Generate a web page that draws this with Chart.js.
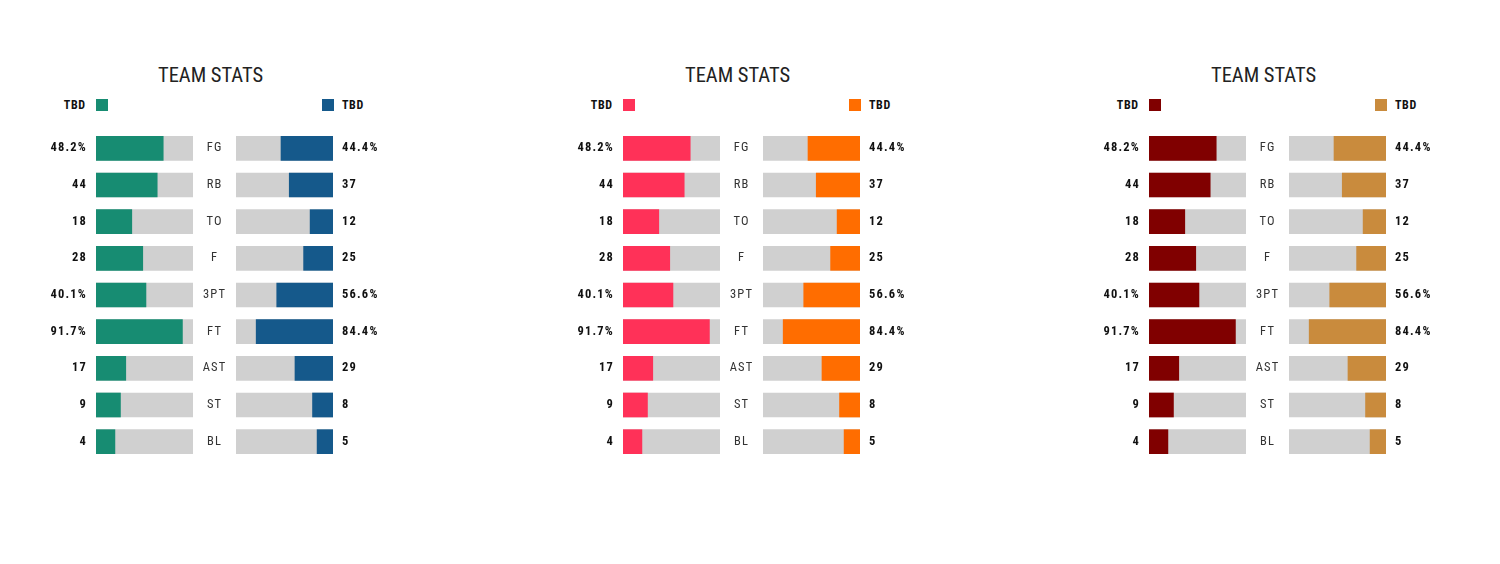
<!DOCTYPE html>
<html>
<head>
<meta charset="utf-8">
<title>Team stats</title>
<script src="https://cdn.jsdelivr.net/npm/chart.js@4.4.1/dist/chart.umd.min.js"></script>
<style>
  body { margin: 0; background: #fff; width: 1500px; height: 564px; position: relative; overflow: hidden; font-family: Roboto, sans-serif; }
  .panel { position: absolute; top: 0; width: 500px; height: 564px; }
  .title { position: absolute; top: 65px; left: 110.5px; width: 200px; text-align: center; font-size: 20.5px; line-height: 20px; color: #222; font-stretch: condensed; }
  .tbd { position: absolute; top: 99px; font-size: 12px; line-height: 12px; font-weight: bold; color: #111; letter-spacing: 0.6px; font-stretch: condensed; }
  .tbd.home { left: 25px; width: 60.6px; text-align: right; }
  .tbd.away { left: 342px; }
  .swatch { position: absolute; top: 99px; width: 12px; height: 12px; }
  .side { position: absolute; top: 130px; height: 330px; }
</style>
</head>
<body>
<script>
// categories and values
const categories = ['FG', 'RB', 'TO', 'F', '3PT', 'FT', 'AST', 'ST', 'BL'];
const homeText = ['48.2%', '44', '18', '28', '40.1%', '91.7%', '17', '9', '4'];
const awayText = ['44.4%', '37', '12', '25', '56.6%', '84.4%', '29', '8', '5'];
// filled share of each bar (0-100)
const homeFill = [69.3, 63.1, 36.9, 48.2, 51.5, 89.1, 30.7, 25.2, 19.5];
const awayFill = [53.6, 45.1, 23.6, 30.3, 58.0, 79.2, 39.2, 21.1, 16.4];
const track = [100, 100, 100, 100, 100, 100, 100, 100, 100];

const teamNames = ['TBD', 'TBD'];
const panelTitle = 'TEAM STATS';
const panelLeft = [0, 527, 1053];
const homeColors = ['#178c72', '#ff3158', '#800000'];
const awayColors = ['#15598b', '#ff6d00', '#c98b3d'];
const trackColor = '#d0d0d0';

const spacing = {
  id: 'spacing',
  beforeDraw(chart) { chart.ctx.letterSpacing = '1.2px'; }
};

function makeSide(parent, left, fill, text, color, isHome) {
  const width = isHome ? 196 : 150;
  const box = document.createElement('div');
  box.className = 'side';
  box.style.left = left + 'px';
  box.style.width = width + 'px';
  const canvas = document.createElement('canvas');
  canvas.width = width;
  canvas.height = 330;
  box.appendChild(canvas);
  parent.appendChild(box);

  const noGrid = { display: false, drawTicks: false };
  // keep the rows spread over the whole canvas height
  const fitTo = w => s => { s.width = w; s.paddingTop = 0; s.paddingBottom = 0; };
  const scales = {
    x: { min: 0, max: 100, reverse: !isHome, display: false },
    y: {
      position: isHome ? 'left' : 'right',
      offset: true,
      grid: noGrid,
      border: { display: false },
      ticks: {
        callback: (v, i) => text[i],
        color: '#111',
        padding: isHome ? 9 : 9,
        font: { family: 'Roboto', weight: 'condensed bold', size: 12.5 }
      },
      afterFit: fitTo(isHome ? 56 : 53)
    }
  };
  if (isHome) {
    scales.y2 = {
      type: 'category',
      labels: categories,
      position: 'right',
      offset: true,
      grid: noGrid,
      border: { display: false },
      ticks: {
        crossAlign: 'center',
        color: '#333',
        padding: 11.5,
        font: { family: 'Roboto', weight: 'condensed normal', size: 12.5 }
      },
      afterFit: fitTo(43)
    };
  }

  new Chart(canvas, {
    type: 'bar',
    data: {
      labels: categories,
      datasets: [
        { data: fill, backgroundColor: color, grouped: false, barThickness: 24, order: 0 },
        { data: track, backgroundColor: trackColor, grouped: false, barThickness: 24, order: 1 }
      ]
    },
    options: {
      indexAxis: 'y',
      responsive: false,
      animation: false,
      devicePixelRatio: 1,
      layout: { padding: 0 },
      scales: scales,
      plugins: { legend: { display: false }, tooltip: { enabled: false } }
    },
    plugins: [spacing]
  });
}

panelLeft.forEach((dx, p) => {
  const panel = document.createElement('div');
  panel.className = 'panel';
  panel.style.left = dx + 'px';
  panel.innerHTML = `
    <div class="title">${panelTitle}</div>
    <div class="tbd home">${teamNames[0]}</div>
    <div class="swatch" style="left:96px;background:${homeColors[p]}"></div>
    <div class="swatch" style="left:322px;background:${awayColors[p]}"></div>
    <div class="tbd away">${teamNames[1]}</div>`;
  document.body.appendChild(panel);

  makeSide(panel, 40, homeFill, homeText, homeColors[p], true);
  makeSide(panel, 236, awayFill, awayText, awayColors[p], false);
});
</script>
</body>
</html>
